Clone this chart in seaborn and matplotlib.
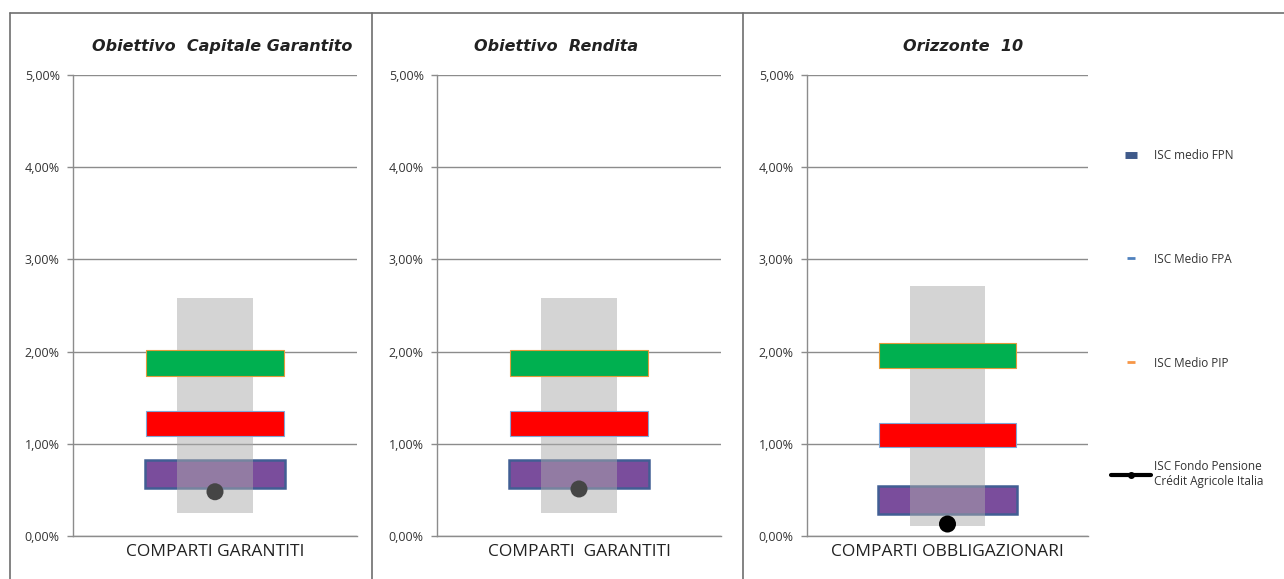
import matplotlib
matplotlib.use("Agg")
import matplotlib.pyplot as plt
from matplotlib.lines import Line2D
import seaborn as sns

# data (ISC in %)
TITLES = ['Obiettivo  Capitale Garantito', 'Obiettivo  Rendita', 'Orizzonte  10']
CATEGORIES = ['COMPARTI GARANTITI', 'COMPARTI  GARANTITI', 'COMPARTI OBBLIGAZIONARI']
RANGE_LOW = [0.25, 0.25, 0.11]
RANGE_HIGH = [2.58, 2.58, 2.71]
PIP_LOW = [1.74, 1.74, 1.82]
PIP_HIGH = [2.02, 2.02, 2.09]
FPA_LOW = [1.08, 1.08, 0.96]
FPA_HIGH = [1.36, 1.36, 1.23]
FPN_LOW = [0.52, 0.52, 0.24]
FPN_HIGH = [0.82, 0.82, 0.54]
FONDO_CA = [0.48, 0.51, 0.13]
Y_TICKS = [0, 1, 2, 3, 4, 5]
Y_LABELS = ['0,00%', '1,00%', '2,00%', '3,00%', '4,00%', '5,00%']
LEGEND_LABELS = ['ISC medio FPN', 'ISC Medio FPA', 'ISC Medio PIP',
                 'ISC Fondo Pensione\nCrédit Agricole Italia']

sns.set_style("white")
plt.rcParams['font.family'] = ['Open Sans', 'DejaVu Sans']

W, H = 1284, 579
fig = plt.figure(figsize=(W / 100, H / 100), dpi=100)

# axes boxes in pixels: left, right; y from 0% (536) to 5% (75)
panels = [(73, 357), (437, 721), (807, 1088)]
title_x = [0.525, 0.42, 0.555]
y0, y5 = 536, 75


def floating_bar(ax, cat, low, high, width, face, edge, lw, z, alpha=1.0):
    sns.barplot(x=[cat], y=[high - low], bottom=[low], width=width, color=face,
                saturation=1, edgecolor=edge, linewidth=lw, errorbar=None,
                alpha=alpha, zorder=z, ax=ax)


for i, (xl, xr) in enumerate(panels):
    ax = fig.add_axes([xl / W, 1 - y0 / H, (xr - xl) / W, (y0 - y5) / H])
    cat = CATEGORIES[i]
    floating_bar(ax, cat, FPN_LOW[i], FPN_HIGH[i], 0.495, '#7A4D9C', '#415E94', 1.8, 3)
    floating_bar(ax, cat, RANGE_LOW[i], RANGE_HIGH[i], 0.265, '#AAAAAA', 'none', 0, 4, alpha=0.5)
    floating_bar(ax, cat, PIP_LOW[i], PIP_HIGH[i], 0.486, '#00B050', '#E39A3B', 0.8, 5)
    floating_bar(ax, cat, FPA_LOW[i], FPA_HIGH[i], 0.486, '#FF0000', '#7FA6D6', 0.8, 5)
    dot_col = '#000000' if i == 2 else '#454545'
    sns.scatterplot(x=[cat], y=[FONDO_CA[i]], s=150, color=dot_col,
                    edgecolor='none', zorder=6, ax=ax)

    ax.set_xlim(-0.5, 0.5)
    ax.set_ylim(0, 5)
    ax.set_yticks(Y_TICKS)
    ax.set_yticklabels(Y_LABELS, fontsize=9, color='#333333')
    ax.tick_params(axis='y', which='major', left=True, length=4.5, width=1,
                   color='#8c8c8c', pad=5)
    ax.tick_params(axis='x', length=0, pad=6, labelsize=12.5, labelcolor='#222222')
    ax.set_xlabel('')
    ax.set_ylabel('')
    ax.yaxis.grid(True, color='#8c8c8c', linewidth=1)
    ax.set_axisbelow(True)
    for s in ['top', 'right']:
        ax.spines[s].set_visible(False)
    for s in ['left', 'bottom']:
        ax.spines[s].set_color('#8c8c8c')
        ax.spines[s].set_linewidth(1)
    ax.text(title_x[i], 1.045, TITLES[i], transform=ax.transAxes, ha='center',
            va='bottom', fontsize=11.5, style='italic', fontweight='semibold',
            family='DejaVu Sans', color='#222222')

# outer frame
frame_col = '#6e6e6e'
top = 1 - 13 / H
fig.add_artist(Line2D([10 / W, 1], [top, top], transform=fig.transFigure,
                      color=frame_col, lw=1.2))
for px in [10, 372, 743]:
    fig.add_artist(Line2D([px / W, px / W], [0, top], transform=fig.transFigure,
                          color=frame_col, lw=1.2))

# legend
handles = [
    Line2D([], [], linestyle='none', marker='_', markersize=8, markeredgewidth=5,
           color='#3F5A8A'),
    Line2D([], [], linestyle='none', marker='_', markersize=6, markeredgewidth=2,
           color='#4F81BD'),
    Line2D([], [], linestyle='none', marker='_', markersize=6, markeredgewidth=2,
           color='#F79646'),
    Line2D([], [], color='black', lw=3, marker='o', markersize=4),
]
fig.legend(handles, LEGEND_LABELS, loc='upper left', bbox_to_anchor=(1106 / W, 1 - 144 / H),
           frameon=False, fontsize=8.5, labelspacing=7.7, handlelength=3.4,
           handletextpad=0.3, borderaxespad=0, labelcolor='#333333')

fig.savefig('out.png', dpi=100)
